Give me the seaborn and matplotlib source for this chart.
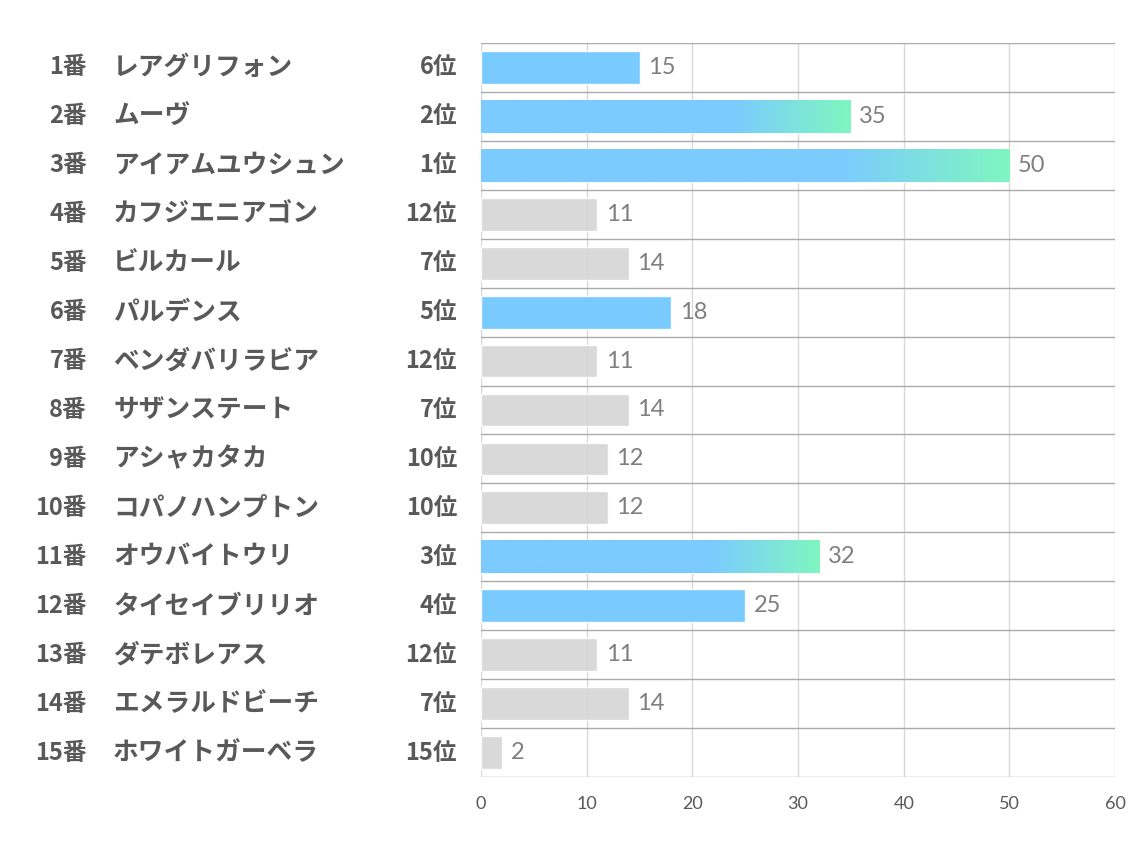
import numpy as np
import pandas as pd
import matplotlib
matplotlib.use("Agg")
import matplotlib.pyplot as plt
import seaborn as sns
from matplotlib.colors import LinearSegmentedColormap
from matplotlib.transforms import blended_transform_factory

numbers = ["1番", "2番", "3番", "4番", "5番", "6番", "7番", "8番", "9番", "10番",
           "11番", "12番", "13番", "14番", "15番"]
names = ["レアグリフォン", "ムーヴ", "アイアムユウシュン", "カフジエニアゴン", "ビルカール",
         "パルデンス", "ベンダバリラビア", "サザンステート", "アシャカタカ", "コパノハンプトン",
         "オウバイトウリ", "タイセイブリリオ", "ダテボレアス", "エメラルドビーチ", "ホワイトガーベラ"]
ranks = [6, 2, 1, 12, 7, 5, 12, 7, 10, 10, 3, 4, 12, 7, 15]
values = [15, 35, 50, 11, 14, 18, 11, 14, 12, 12, 32, 25, 11, 14, 2]
x_ticks = [0, 10, 20, 30, 40, 50, 60]

BLUE = "#6BC5FF"
GREEN = "#7FF6C0"
GRAY = "#D5D5D5"
TEXT = "#595959"

groups = ["top3" if r <= 3 else ("top6" if r <= 6 else "other") for r in ranks]
df = pd.DataFrame({"num": numbers, "name": names, "rank": ranks,
                   "value": values, "group": groups})

sns.set_style("white")
plt.rcParams["font.family"] = ["Noto Sans CJK JP", "DejaVu Sans"]

fig = plt.figure(figsize=(11.34, 8.5), dpi=100)
ax = fig.add_axes([0.4242, 0.0859, 0.5591, 0.8635])

sns.barplot(data=df, x="value", y="num", hue="group", orient="h", dodge=False,
            palette={"top3": BLUE, "top6": BLUE, "other": GRAY},
            width=0.67, alpha=0.9, legend=False, ax=ax, saturation=1)

ax.set_xlim(0, 60)
ax.set_ylim(len(numbers) - 0.5, -0.5)

# gradient for top-3 bars
cmap = LinearSegmentedColormap.from_list("g", [(0, "#7BCBFF"), (0.68, "#7BCBFF"), (1, GREEN)])
grad = np.linspace(0, 1, 256).reshape(1, -1)
for p in list(ax.patches):
    idx = int(round(p.get_y() + p.get_height() / 2))
    if 0 <= idx < len(ranks) and ranks[idx] <= 3:
        x0, y0 = p.get_x(), p.get_y()
        w, h = p.get_width(), p.get_height()
        im = ax.imshow(grad, extent=[x0, x0 + w, y0 + h, y0], aspect="auto",
                       cmap=cmap, zorder=p.get_zorder() + 0.1, interpolation="bilinear")
        im.set_clip_path(p)
ax.set_aspect("auto")
ax.set_xlim(0, 60)
ax.set_ylim(len(numbers) - 0.5, -0.5)

# value labels
for c in ax.containers:
    ax.bar_label(c, fmt="%g", padding=6, fontsize=17, color="#7F7F7F",
                 family=["Lato", "DejaVu Sans"])

# grids
ax.set_xticks(x_ticks)
ax.set_yticks(np.arange(len(numbers)))
ax.set_yticks(np.arange(-0.5, len(numbers), 1), minor=True)
ax.grid(axis="x", which="major", color="#D9D9D9", lw=1)
ax.grid(axis="y", which="major", visible=False)
ax.grid(axis="y", which="minor", color="#ABABAB", lw=1)
ax.set_axisbelow(True)
for s in ax.spines.values():
    s.set_visible(False)
ax.tick_params(axis="y", which="both", length=0, labelleft=False)
ax.tick_params(axis="x", which="both", length=0, pad=14, labelsize=13, colors=TEXT)
for t in ax.get_xticklabels():
    t.set_family(["Lato", "DejaVu Sans"])
ax.set_xlabel("")
ax.set_ylabel("")

# left labels
tr = blended_transform_factory(ax.transAxes, ax.transData)
for i in range(len(numbers)):
    ax.text(-0.6215, i, numbers[i], transform=tr, ha="right", va="center",
            fontsize=17, fontweight="bold", color=TEXT)
    ax.text(-0.5804, i, names[i], transform=tr, ha="left", va="center",
            fontsize=18.5, fontweight="bold", color=TEXT)
    ax.text(-0.0379, i, f"{ranks[i]}位", transform=tr, ha="right", va="center",
            fontsize=17, fontweight="bold", color=TEXT)

fig.savefig("out.png", dpi=100)
